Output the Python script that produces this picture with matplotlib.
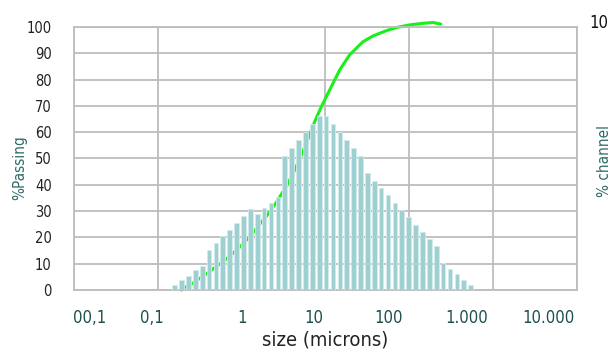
import matplotlib
matplotlib.use("Agg")
import matplotlib.pyplot as plt
import numpy as np

plt.rcParams['font.family'] = ['DejaVu Sans']
plt.rcParams['font.stretch'] = 'condensed'

# channel sizes (microns) and % in each channel
sizes = [0.158, 0.191, 0.231, 0.280, 0.338, 0.408, 0.493, 0.596, 0.720, 0.870,
         1.051, 1.270, 1.535, 1.854, 2.240, 2.706, 3.269, 3.950, 4.772, 5.765,
         6.965, 8.415, 10.17, 12.28, 14.84, 17.93, 21.66, 26.17, 31.6, 38.2,
         46.1, 55.8, 67.4, 81.4, 98.4, 118.8, 143.6, 173.5, 209.6, 253.2,
         305.9, 369.6, 446.5, 539.5]
channel = [2.0, 3.7, 5.5, 7.6, 9.2, 15.2, 17.9, 20.5, 22.9, 25.6,
           28.1, 30.7, 28.8, 31.0, 33.2, 35.2, 51.0, 54.0, 57.0, 60.0,
           63.0, 66.3, 66.3, 63.0, 60.0, 57.0, 54.0, 51.0, 44.4, 41.6,
           38.8, 36.0, 33.2, 30.4, 27.6, 24.8, 22.1, 19.3, 16.6, 10.1,
           8.0, 6.1, 3.9, 1.9]

# cumulative % passing curve
pass_size = [0.19, 0.209, 0.258, 0.309, 0.375, 0.455, 0.546, 0.662, 0.803, 0.973,
             1.17, 1.40, 1.70, 2.06, 2.52, 2.98, 3.57, 4.29, 5.15, 6.18,
             7.43, 8.93, 9.78, 11.2, 14.8, 19.4, 28.0, 36.9, 53.3, 70.2,
             101, 146, 192, 237]
passing = [0, 1.0, 2.5, 4.2, 6.0, 8.0, 9.8, 11.9, 14.2, 16.7,
           19.3, 22.2, 25.6, 28.8, 32.7, 36.4, 40.6, 45.6, 51.3, 57.3,
           64.0, 69.7, 72.2, 76.0, 83.7, 89.4, 94.4, 96.6, 98.6, 99.8,
           100.8, 101.4, 101.7, 101.1]

decades = [0.01, 0.1, 1, 10, 100, 1000, 10000]
x_labels = ['00,1', '0,1', '1', '10', '100', '1.000', '10.000']
label_pos = [0.0152, 0.0843, 1, 7.33, 56, 484, 4540]

fig = plt.figure(figsize=(6.11, 3.56), dpi=100)
ax = fig.add_axes([0.1211, 0.1854, 0.8232, 0.7388])

sz = np.array(sizes)
half = 10 ** 0.028
ax.bar(sz / half, channel, width=sz * half - sz / half, align='edge',
       color='#9fcfd1', edgecolor='#d2ecec', linewidth=0.6, zorder=3)
ax.plot(pass_size, passing, color='#19f019', lw=2.2, zorder=2, clip_on=False,
        solid_capstyle='round')

ax.set_xscale('log')
ax.set_xlim(0.01, 10000)
ax.set_ylim(0, 100)

ax.set_xticks(decades, minor=True)
ax.set_xticks(label_pos)
ax.set_xticklabels(x_labels, color='#1e5050', fontsize=12)
ax.xaxis.set_minor_formatter(plt.NullFormatter())
ax.tick_params(axis='x', which='both', length=0, pad=14)
ax.grid(True, axis='x', which='minor', color='#bdbdbd', lw=1.3, zorder=1)

ax.set_yticks(range(0, 101, 10))
ax.tick_params(axis='y', length=0, pad=16, labelsize=10.5, labelcolor='#222222')
ax.grid(True, axis='y', color='#bdbdbd', lw=1.3, zorder=1)

for s in ax.spines.values():
    s.set_color('#bdbdbd')
    s.set_linewidth(1.3)

ax.set_xlabel('size (microns)', fontsize=14.5, color='#222222', labelpad=2)
fig.text(0.032, 0.53, '%Passing', rotation=90, color='#2f6b68', fontsize=11,
         ha='center', va='center')
fig.text(0.989, 0.548, '% channel', rotation=90, color='#2f6b68', fontsize=11,
         ha='center', va='center')
fig.text(0.98, 0.935, '10', color='#111111', fontsize=12, ha='center', va='center')

fig.savefig('out.png', dpi=100)
